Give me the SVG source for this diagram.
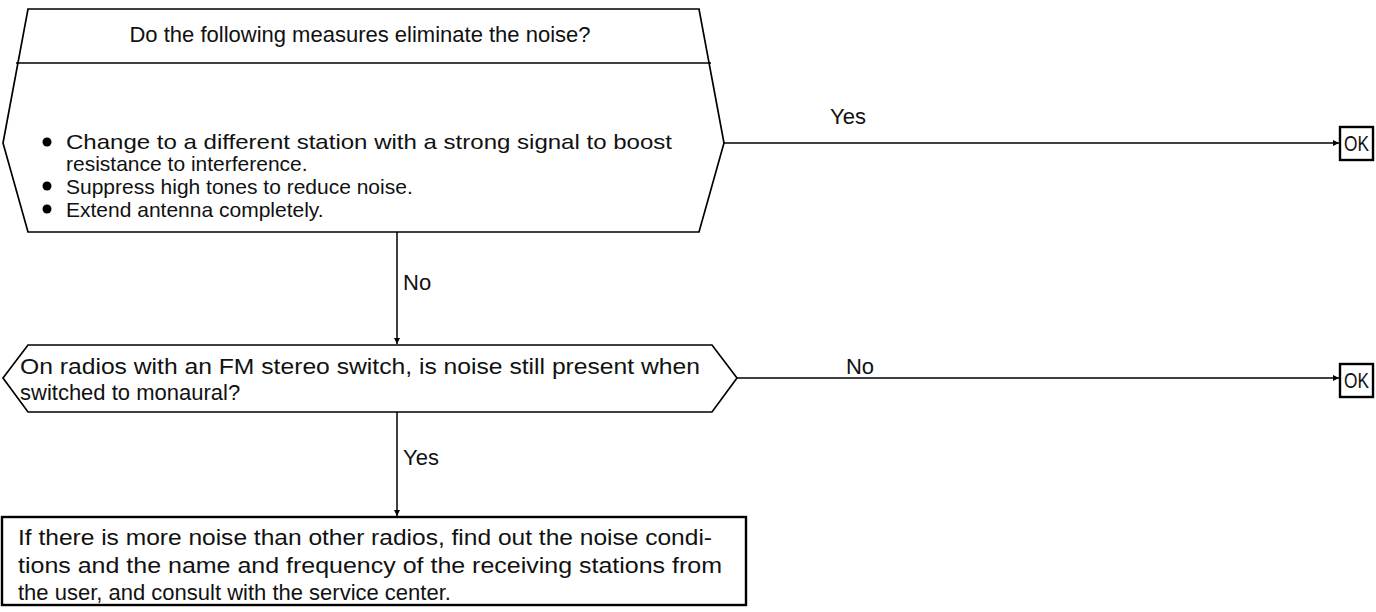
<svg xmlns="http://www.w3.org/2000/svg" width="1376" height="612" viewBox="0 0 1376 612">
<defs>
<style>
.shape{fill:#fff;stroke:#000;stroke-width:1.7;stroke-linejoin:miter}
.box{fill:#fff;stroke:#000;stroke-width:2.4}
.edge{stroke:#000;stroke-width:1.5;fill:none}
text{font-family:"Liberation Sans",Arial,Helvetica,sans-serif;font-size:22px;fill:#111}
.bl{font-size:21px}
</style>
<marker id="ah" viewBox="0 0 10 10" refX="10" refY="5" markerWidth="9" markerHeight="6" markerUnits="userSpaceOnUse" orient="auto">
<path d="M0,0 L10,5 L0,10 z" fill="#000"/>
</marker>
</defs>
<rect width="1376" height="612" fill="#fff"/>

<g id="node-measures">
<polygon class="shape" points="28,9 699,9 724,143 699,232 28,232 3,143"/>
<line class="shape" x1="16" y1="63" x2="711" y2="63"/>
<text x="360" y="42" text-anchor="middle">Do the following measures eliminate the noise?</text>
<circle cx="47" cy="142" r="4.5"/>
<circle cx="47" cy="186" r="4.5"/>
<circle cx="47" cy="209" r="4.5"/>
<text class="bl" x="66" y="149" textLength="606" lengthAdjust="spacingAndGlyphs">Change to a different station with a strong signal to boost</text>
<text class="bl" x="66" y="171">resistance to interference.</text>
<text class="bl" x="66" y="194">Suppress high tones to reduce noise.</text>
<text class="bl" x="66" y="217">Extend antenna completely.</text>
</g>

<g id="node-ok1">
<rect class="box" x="1340" y="127" width="33" height="33"/>
<text x="1356.5" y="151" text-anchor="middle" textLength="25" lengthAdjust="spacingAndGlyphs">OK</text>
</g>

<g id="node-stereo">
<polygon class="shape" points="28,345 712,345 737,378 712,412 28,412 3,378"/>
<text x="20" y="374" textLength="680" lengthAdjust="spacingAndGlyphs">On radios with an FM stereo switch, is noise still present when</text>
<text x="20" y="400">switched to monaural?</text>
</g>

<g id="node-ok2">
<rect class="box" x="1340" y="364" width="33" height="33"/>
<text x="1356.5" y="388" text-anchor="middle" textLength="25" lengthAdjust="spacingAndGlyphs">OK</text>
</g>

<g id="node-service">
<rect class="box" x="2" y="517" width="744" height="88"/>
<text x="18" y="545" textLength="694" lengthAdjust="spacingAndGlyphs">If there is more noise than other radios, find out the noise condi-</text>
<text x="18" y="573" textLength="704" lengthAdjust="spacingAndGlyphs">tions and the name and frequency of the receiving stations from</text>
<text x="18" y="600">the user, and consult with the service center.</text>
</g>

<g id="connectors">
<line class="edge" x1="724" y1="143" x2="1339" y2="143" marker-end="url(#ah)"/>
<text x="848" y="124" text-anchor="middle">Yes</text>
<line class="edge" x1="397" y1="232" x2="397" y2="344" marker-end="url(#ah)"/>
<text x="403" y="290">No</text>
<line class="edge" x1="737" y1="378" x2="1339" y2="378" marker-end="url(#ah)"/>
<text x="860" y="374" text-anchor="middle">No</text>
<line class="edge" x1="397" y1="412" x2="397" y2="516" marker-end="url(#ah)"/>
<text x="403" y="465">Yes</text>
</g>
</svg>
